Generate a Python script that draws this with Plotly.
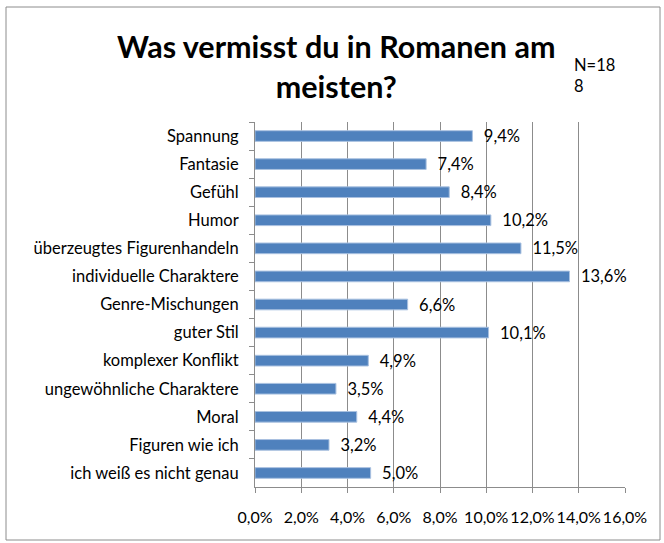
import plotly.graph_objects as go

categories = ["Spannung", "Fantasie", "Gefühl", "Humor", "überzeugtes Figurenhandeln",
              "individuelle Charaktere", "Genre-Mischungen", "guter Stil", "komplexer Konflikt",
              "ungewöhnliche Charaktere", "Moral", "Figuren wie ich", "ich weiß es nicht genau"]
values = [0.094, 0.074, 0.084, 0.102, 0.115, 0.136, 0.066, 0.101, 0.049, 0.035, 0.044, 0.032, 0.050]
tick_values = [0, 0.02, 0.04, 0.06, 0.08, 0.10, 0.12, 0.14, 0.16]

FONT = "Lato"
FS = 16.5

fig = go.Figure(go.Bar(
    x=values, y=categories, orientation="h",
    marker=dict(color="#4F81BD", line=dict(color="#A9C1E0", width=1)),
    text=["\u00a0\u00a0" + f"{v*100:.1f}%".replace(".", ",") for v in values],
    textposition="outside", cliponaxis=False, constraintext="none",
    textfont=dict(family=FONT, size=FS, color="#000"),
))

fig.update_layout(
    width=664, height=543,
    margin=dict(l=255, r=39, t=122, b=56),
    paper_bgcolor="white", plot_bgcolor="white",
    separators=",.",
    bargap=0.62,
    showlegend=False,
    font=dict(family=FONT, size=FS, color="#000"),
    xaxis=dict(range=[0, 0.16], tickvals=tick_values, tickformat=".1%",
               showgrid=True, gridcolor="#8C8C8C", gridwidth=1,
               showline=True, linecolor="#8C8C8C", ticks="outside", ticklen=5,
               tickcolor="#8C8C8C", ticklabelstandoff=11, zeroline=False,
               tickangle=0, automargin=False,
               tickfont=dict(family=FONT, size=16)),
    yaxis=dict(autorange="reversed", showline=True, linecolor="#8C8C8C",
               ticks="outside", tickson="boundaries", ticklen=5, tickcolor="#8C8C8C",
               ticklabelstandoff=12, automargin=False, tickfont=dict(family=FONT, size=FS)),
    shapes=[dict(type="rect", xref="paper", yref="paper",
                 x0=(6-255)/370, x1=(660-255)/370, y0=(487-540)/365, y1=(487-7)/365,
                 line=dict(color="#8C8C8C", width=1), fillcolor="rgba(0,0,0,0)")],
    annotations=[
        dict(text="<b>Was vermisst du in Romanen am<br>meisten?</b>", xref="paper", yref="paper",
             x=(336-255)/370, y=(487-66)/365, xanchor="center", yanchor="middle",
             showarrow=False, font=dict(family=FONT, size=30.5, color="#000"),
             align="center"),
        dict(text="N=18<br>8", xref="paper", yref="paper",
             x=(572-255)/370, y=(487-75)/365, xanchor="left", yanchor="middle",
             showarrow=False, font=dict(family=FONT, size=FS, color="#000"), align="left"),
    ],
)

fig.write_html("out.html", config={"displayModeBar": False},
               post_script="document.body.style.margin='0';")
